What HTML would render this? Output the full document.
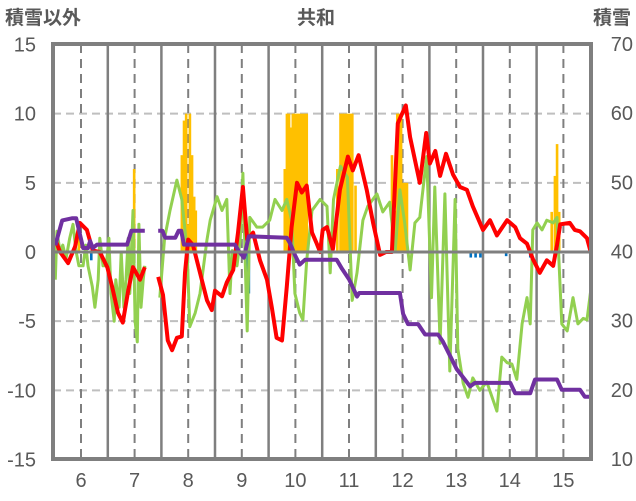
<!DOCTYPE html>
<html><head><meta charset="utf-8">
<style>
html,body{margin:0;padding:0;background:#fff;}
svg{display:block;font-family:"Liberation Sans","Noto Sans CJK JP",sans-serif;}
</style></head>
<body>
<svg id="chart" width="636" height="501" viewBox="0 0 636 501" xmlns="http://www.w3.org/2000/svg">
<text x="5" y="24" font-size="19" font-weight="600" fill="#595959">積雪以外</text>
<text x="316" y="24" font-size="19" font-weight="600" fill="#595959" text-anchor="middle">共和</text>
<text x="631" y="24" font-size="19" font-weight="600" fill="#595959" text-anchor="end">積雪</text>
<g id="grid"></g>
<g id="bars"></g>
<g id="lines"></g>
<g id="axes"></g>
</svg>
<script>
const xTicks=[6,7,8,9,10,11,12,13,14,15];
const leftTicks=[15,10,5,0,-5,-10,-15];
const rightTicks=[70,60,50,40,30,20,10];
const redT=[5.52,5.61,5.76,5.89,5.98,6.11,6.22,6.35,6.49,6.58,6.69,6.78,6.88,6.97,7.10,7.19,null,7.44,7.53,7.62,7.70,7.79,7.88,7.94,8.00,8.09,8.22,8.35,8.44,8.50,8.63,8.72,8.84,8.93,9.02,9.10,9.21,9.34,9.47,9.56,9.65,9.75,9.84,9.93,10.03,10.12,10.21,10.31,10.40,10.46,10.51,10.59,10.70,10.83,10.98,11.07,11.18,11.33,11.45,11.58,11.69,11.80,11.91,12.06,12.14,12.32,12.44,12.51,12.61,12.70,12.81,12.94,13.07,13.20,13.31,13.50,13.63,13.76,13.95,14.10,14.19,14.32,14.43,14.56,14.69,14.81,14.88,14.94,15.12,15.21,15.31,15.44,15.51];
const redV=[0.9,0,-0.8,0.4,2.1,1.6,0.1,0,-1.1,-2.5,-4.4,-5.1,-2.8,-1.1,-2,-1.1,null,-1.8,-3.1,-6.4,-7.1,-6.2,-6.1,-1.5,0.9,0.5,-1.5,-3.5,-4.2,-2.8,-3.2,-2.2,-1.3,1.4,4.7,0.9,1.4,-0.6,-2,-4,-6.2,-6.4,-2.5,1.8,5,4.3,4.8,1.4,0.6,0,1.6,1.8,0.2,4.5,6.9,5.9,7,4.5,2.1,-0.2,0,0,9.3,10.6,8.3,5,8.6,6.4,7.3,5.5,7.1,5.6,4.7,4.5,3.3,1.6,2.3,1.2,2.3,1.8,1.0,0.6,-0.5,-1.5,-0.6,-1,0.5,2,2.1,1.6,1.5,1,0];
const greenT=[5.52,5.55,5.61,5.66,5.72,5.79,5.85,5.91,5.96,6.04,6.09,6.13,6.21,6.26,6.32,6.35,6.41,6.47,6.52,6.56,6.62,6.65,6.71,6.75,6.80,6.84,6.88,6.91,6.97,7.01,7.05,7.08,7.12,7.16,7.19,null,7.47,7.56,7.66,7.79,7.88,7.98,8.03,8.13,8.22,8.35,8.41,8.54,8.63,8.72,8.78,8.82,8.91,8.97,9.02,9.08,9.10,9.15,9.28,9.39,9.52,9.62,9.75,9.84,9.93,9.99,10.08,10.14,10.21,10.31,10.46,10.59,10.65,10.71,10.84,10.97,11.06,11.15,11.26,11.35,11.52,11.63,11.76,11.86,11.95,12.04,12.14,12.23,12.32,12.45,12.54,12.60,12.70,12.79,12.88,12.98,13.03,13.13,13.22,13.31,13.44,13.57,13.67,13.76,13.85,13.95,14.04,14.13,14.23,14.32,14.38,14.43,14.51,14.60,14.69,14.81,14.88,14.97,15.07,15.18,15.27,15.37,15.44,15.51];
const greenV=[-2,1.5,0,0.5,-0.5,1,2,0,-1,-1,0.5,-1,-2.5,-4,-2,1,-1,-1,1,-3,-5,-2,-4,0,-4,-2,1,-3,3,-5,-6.5,2,-4,-2,-1,null,-3.3,1,3,5.2,3.8,0.1,-5.4,-4.4,-3,0.9,2.3,4,3,3.8,-3,0.1,-1,0.9,5.7,-3,-5.7,2.5,1.8,1.8,2.3,3.8,3,3.8,2.3,-3,-4.4,-4.9,-0.6,3,3.8,3.3,-1.5,3.8,6.2,5.4,-3.5,-1.5,2.3,3.3,4.2,2.9,3.6,0,4.5,2.1,-1.3,2.1,2.5,6.9,-3.3,4.7,-6.6,4.2,-8.6,3.8,-7,-9.5,-10.5,-9.1,-10,-9.4,-10.5,-11.5,-7.6,-8,-8.1,-9.2,-5.2,-3.3,-5.2,1.6,2.1,1.6,2.3,2.1,2.5,-5.2,-5.7,-3.3,-5.2,-4.8,-4.9,-2.8];
const snowT=[5.52,5.65,5.83,5.91,6.04,6.13,6.17,6.22,6.30,6.86,6.94,7.19,null,7.44,7.52,7.57,7.76,7.82,7.87,7.92,8.87,8.95,9.04,9.13,9.84,9.90,9.99,10.08,10.18,10.77,10.87,11.00,11.15,11.19,11.95,12.01,12.10,12.29,12.42,12.66,12.75,12.88,13.01,13.16,13.26,13.35,14.01,14.10,14.38,14.47,14.88,14.97,15.31,15.40,15.52];
const snowV=[40.9,44.5,44.8,44.8,40.5,40.5,41.5,40.5,41,41,43,43,null,43,43,42,42,43,43,41,41,40,39.1,42.2,42,41.2,39.5,38.1,38.8,38.8,37.5,36,33.5,34,34,31,29.5,29.5,28,28,27,25,23,21.5,20.5,21,21,19.5,19.5,21.5,21.5,20,20,19,19];
const precipT=[5.96,6.99,7.88,7.92,7.96,8.00,8.03,8.07,8.11,8.14,9.80,9.84,9.88,9.91,9.95,9.99,10.03,10.06,10.10,10.14,10.18,10.21,10.78,10.84,10.88,10.91,10.95,10.99,11.03,11.06,11.12,11.80,11.86,11.90,11.93,11.97,12.01,12.04,12.08,14.78,14.84,14.88,14.92];
const precipV=[1.5,6,7,9.5,10,2,10,7,4,3,6,10,10,9,10,10,10,10,10,10,10,10,6,10,10,10,10,10,10,10,4.8,7,3,10,10,10,5,5,5,2.9,5.5,7.8,2.9];
const negT=[6.19,9.10,9.13,12.75,13.27,13.36,13.45,13.93,14.38];
const negV=[-0.6,-1.5,-3,-0.3,-0.4,-0.4,-0.4,-0.3,-0.4];

const L=53,R=591,T=44,B=459;
const xS=d=>81+(d-6)*53.6;
const yL=v=>252-(v)*(B-T)/30;
const yR=v=>B-(v-10)*(B-T)/60;
const NS="http://www.w3.org/2000/svg";
function mk(tag,parent,attrs){const e=document.createElementNS(NS,tag);for(const k in attrs)e.setAttribute(k,attrs[k]);parent.appendChild(e);return e;}
const grid=document.getElementById('grid'),bars=document.getElementById('bars'),lines=document.getElementById('lines'),axes=document.getElementById('axes');

leftTicks.forEach(v=>{ if(v===15||v===-15||v===0)return;
  const g=mk('line',grid,{x1:L,x2:R,y1:yL(v),y2:yL(v),stroke:'#bfbfbf','stroke-width':2,'stroke-dasharray':'8,5'});
  
  
});
xTicks.forEach(d=>{
  const g=mk('line',grid,{x1:xS(d),x2:xS(d),y1:T,y2:B,stroke:'#7f7f7f','stroke-width':2,'stroke-dasharray':'9,6'});
  
  
  if(d<15){const s=mk('line',grid,{x1:xS(d+0.5),x2:xS(d+0.5),y1:T,y2:B,stroke:'#7f7f7f','stroke-width':2.5});
  
  }
});
precipT.forEach((d,i)=>{
  const r=mk('rect',bars,{x:xS(d)-1.2,y:yL(precipV[i]),width:2.6,height:yL(0)-yL(precipV[i]),fill:'#ffc000'});
  
  
});
negT.forEach((d,i)=>{
  const r=mk('rect',bars,{x:xS(d)-1.2,y:yL(0),width:2.6,height:yL(negV[i])-yL(0),fill:'#0070c0'});
  
  
});
const zero=mk('line',axes,{x1:L,x2:R,y1:yL(0),y2:yL(0),stroke:'#7f7f7f','stroke-width':3});


function path(ts,vs,ys){let d='',pen=false;ts.forEach((t,i)=>{if(t===null){pen=false;return;}d+=(pen?'L':'M')+xS(t).toFixed(1)+','+ys(vs[i]).toFixed(1);pen=true;});return d;}
const pg=mk('path',lines,{d:path(greenT,greenV,yL),fill:'none',stroke:'#92d050','stroke-width':3,'stroke-linejoin':'round'});


const pr=mk('path',lines,{d:path(redT,redV,yL),fill:'none',stroke:'#ff0000','stroke-width':4,'stroke-linejoin':'round'});


const pp=mk('path',lines,{d:path(snowT,snowV,yR),fill:'none',stroke:'#7030a0','stroke-width':4,'stroke-linejoin':'round'});


const fr=mk('rect',axes,{x:L,y:T,width:R-L,height:B-T,fill:'none',stroke:'#7f7f7f','stroke-width':4});


leftTicks.forEach(v=>{const t=mk('text',axes,{x:36,y:yL(v)+7,'font-size':20,fill:'#595959','text-anchor':'end'});t.textContent=v;
  
  });
rightTicks.forEach(v=>{const t=mk('text',axes,{x:633,y:yR(v)+7,'font-size':20,fill:'#595959','text-anchor':'end'});t.textContent=v;
  
  });
xTicks.forEach(d=>{const t=mk('text',axes,{x:xS(d),y:487,'font-size':20,fill:'#595959','text-anchor':'middle'});t.textContent=d;
  
  });
</script>
</body></html>
